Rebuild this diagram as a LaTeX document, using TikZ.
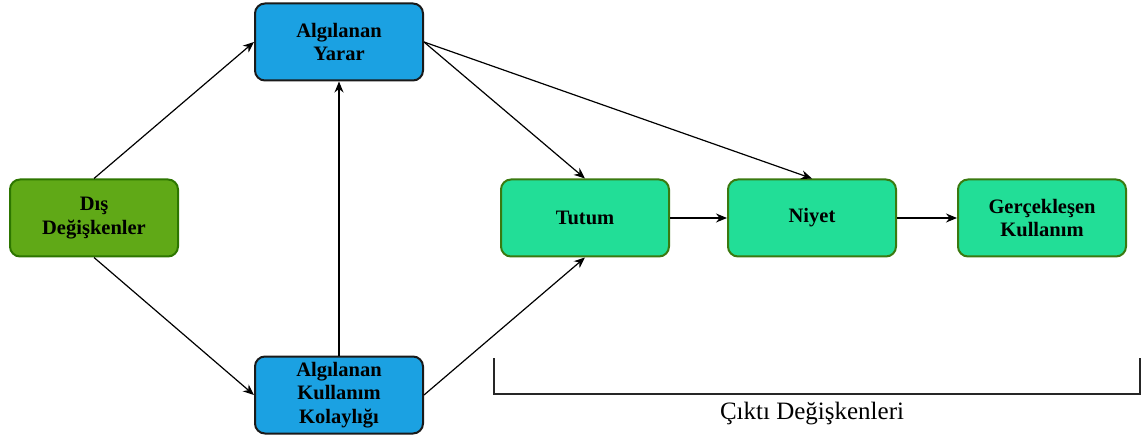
\documentclass[tikz,border=0pt]{standalone}
\usepackage{fontspec}
\setmainfont{Liberation Serif}
\usetikzlibrary{arrows.meta}
\definecolor{extfill}{HTML}{60A917}
\definecolor{extline}{HTML}{2D7600}
\definecolor{perfill}{HTML}{1BA1E2}
\definecolor{perline}{HTML}{1A1A1A}
\definecolor{outfill}{HTML}{22DE97}
\definecolor{outline}{HTML}{3A7A10}
\begin{document}
\begin{tikzpicture}[x=1pt,y=-1pt,
  box/.style={rounded corners=10pt,line width=2pt,minimum width=168pt,minimum height=77pt,
    align=center,inner sep=2pt,font=\fontsize{20.5}{23.5}\selectfont\bfseries},
  extbox/.style={box,fill=extfill,draw=extline},
  perbox/.style={box,fill=perfill,draw=perline},
  outbox/.style={box,fill=outfill,draw=outline},
  link/.style={line width=1.2pt,-{Stealth[length=11pt,width=9pt]}}]
\useasboundingbox (0,0) rectangle (1143,438);
\node[extbox] (dis) at (94,218) {Dış\\Değişkenler};
\node[perbox] (yarar) at (339,42) {Algılanan\\Yarar};
\node[perbox] (kolay) at (339,395) {Algılanan\\Kullanım\\Kolaylığı};
\node[outbox] (tutum) at (585,218) {Tutum};
\node[outbox] (niyet) at (812,218) {Niyet};
\node[outbox] (gercek) at (1042,218) {Gerçekleşen\\Kullanım};
\draw[link] (dis.north) -- (yarar.west);
\draw[link] (dis.south) -- (kolay.west);
\draw[link] (kolay.north) -- (yarar.south);
\draw[link] (kolay.east) -- (tutum.south);
\draw[link] (yarar.east) -- (tutum.north);
\draw[link] (yarar.east) -- (niyet.north);
\draw[link] (tutum.east) -- (niyet.west);
\draw[link] (niyet.east) -- (gercek.west);
\coordinate (bl) at (494,358);
\coordinate (br) at (1140,358);
\draw[line width=2.5pt,draw=black!85] (bl) |- (1140,394) -- (br);
\node[font=\fontsize{25}{28}\selectfont] (out) at (812,414) {Çıktı Değişkenleri};
\end{tikzpicture}
\end{document}
